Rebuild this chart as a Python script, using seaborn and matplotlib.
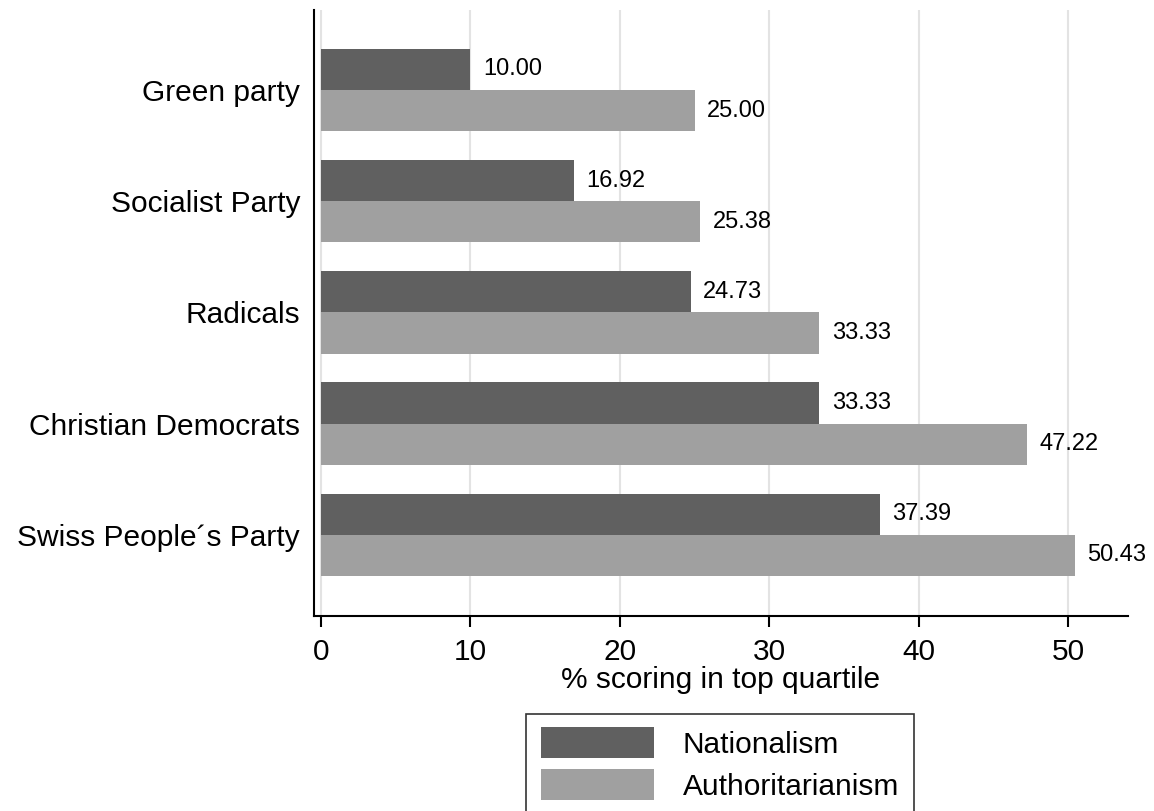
import matplotlib
matplotlib.use("Agg")
import matplotlib.pyplot as plt
import seaborn as sns
import pandas as pd

parties = ["Green party", "Socialist Party", "Radicals", "Christian Democrats", "Swiss People\u00b4s Party"]
nationalism = [10.00, 16.92, 24.73, 33.33, 37.39]
authoritarianism = [25.00, 25.38, 33.33, 47.22, 50.43]
series = ["Nationalism", "Authoritarianism"]
colors = ["#606060", "#a0a0a0"]
xticks = [0, 10, 20, 30, 40, 50]

df = pd.DataFrame({
    "party": parties * 2,
    "value": nationalism + authoritarianism,
    "measure": [series[0]] * len(parties) + [series[1]] * len(parties),
})

sns.set_theme(style="white")
plt.rcParams["font.family"] = ["Liberation Sans", "DejaVu Sans"]
plt.rcParams["text.color"] = "black"
plt.rcParams["xtick.color"] = "black"
plt.rcParams["ytick.color"] = "black"
plt.rcParams["axes.labelcolor"] = "black"

fig = plt.figure(figsize=(11.54, 8.11), dpi=100)
ax = fig.add_axes([314 / 1154, 1 - 616 / 811, (1128 - 314) / 1154, (616 - 10) / 811])

sns.barplot(data=df, y="party", x="value", hue="measure", order=parties,
            hue_order=series, palette=colors, orient="h", width=0.74,
            saturation=1, edgecolor="none", linewidth=0, ax=ax, legend=True)

for cont in ax.containers:
    ax.bar_label(cont, fmt="%.2f", padding=9, fontsize=17, color="black")

ax.set_xlim(-0.47, 54.0)
ax.set_ylim(4.73, -0.72)
ax.set_xticks(xticks)
ax.set_xticklabels([str(t) for t in xticks])
ax.xaxis.grid(True, color="#e3e3e3", linewidth=1.5)
ax.yaxis.grid(False)
ax.set_axisbelow(True)

for s in ["top", "right"]:
    ax.spines[s].set_visible(False)
for s in ["left", "bottom"]:
    ax.spines[s].set_color("black")
    ax.spines[s].set_linewidth(1.5)

ax.tick_params(axis="x", which="major", length=8, width=1.5, color="black",
               labelsize=21.5, pad=8, bottom=True)
ax.tick_params(axis="y", length=0, labelsize=21.5, pad=10)
ax.set_ylabel("")
ax.set_xlabel("% scoring in top quartile", fontsize=21.5, labelpad=0)

leg = ax.legend(loc="upper center", bbox_to_anchor=(720 / 1154, 1 - 714 / 811),
                bbox_transform=fig.transFigure, fontsize=21.5, frameon=True,
                fancybox=False, edgecolor="black", handlelength=3.8,
                handleheight=1.0, handletextpad=0.95, labelspacing=0.42,
                borderpad=0.5, borderaxespad=0, title=None)
leg.get_frame().set_linewidth(1.2)
for h in leg.legend_handles:
    h.set_height(h.get_height() * 1.15)
    h.set_y(h.get_y() - h.get_height() * 0.07)

fig.savefig("out.png", dpi=100)
